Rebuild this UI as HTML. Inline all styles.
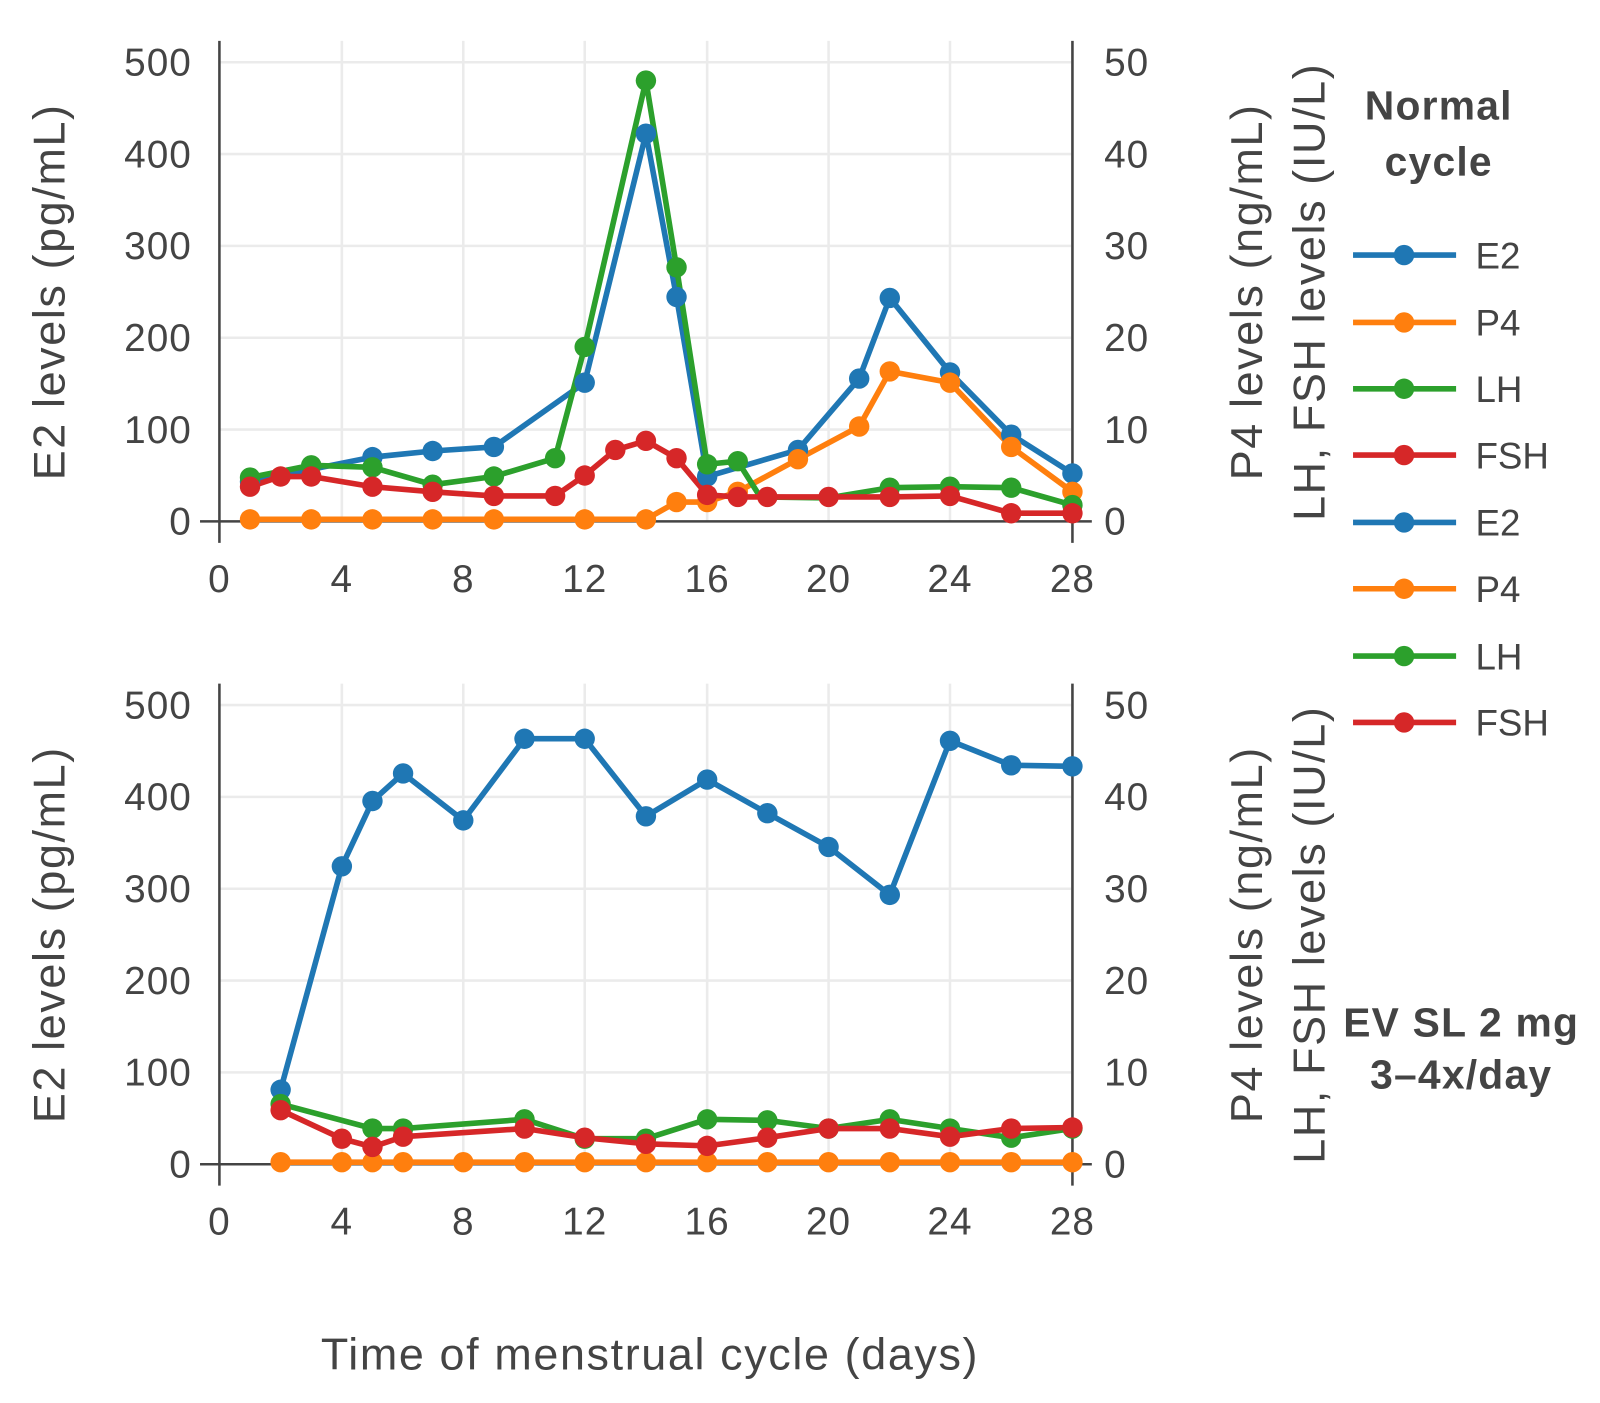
<!DOCTYPE html>
<html><head><meta charset="utf-8"><style>
html,body{margin:0;padding:0;background:#fff;}
svg{display:block;}
text{font-family:"Liberation Sans",sans-serif;fill:#444;}
circle{r:10px;}
</style></head><body>
<svg width="1600" height="1403" viewBox="0 0 1568 1375" xmlns="http://www.w3.org/2000/svg">
<g stroke="#ebebeb" stroke-width="2.5">
<line x1="335" y1="40" x2="335" y2="511"/><line x1="454" y1="40" x2="454" y2="511"/><line x1="573" y1="40" x2="573" y2="511"/><line x1="693" y1="40" x2="693" y2="511"/><line x1="812" y1="40" x2="812" y2="511"/><line x1="931" y1="40" x2="931" y2="511"/><line x1="1051" y1="40" x2="1051" y2="511"/>
<line x1="215" y1="421" x2="1051" y2="421"/><line x1="215" y1="331" x2="1051" y2="331"/><line x1="215" y1="241" x2="1051" y2="241"/><line x1="215" y1="151" x2="1051" y2="151"/><line x1="215" y1="61" x2="1051" y2="61"/>
<line x1="335" y1="670" x2="335" y2="1141"/><line x1="454" y1="670" x2="454" y2="1141"/><line x1="573" y1="670" x2="573" y2="1141"/><line x1="693" y1="670" x2="693" y2="1141"/><line x1="812" y1="670" x2="812" y2="1141"/><line x1="931" y1="670" x2="931" y2="1141"/><line x1="1051" y1="670" x2="1051" y2="1141"/>
<line x1="215" y1="1051" x2="1051" y2="1051"/><line x1="215" y1="961" x2="1051" y2="961"/><line x1="215" y1="871" x2="1051" y2="871"/><line x1="215" y1="781" x2="1051" y2="781"/><line x1="215" y1="691" x2="1051" y2="691"/>
</g>
<g stroke="#444" stroke-width="2.5">
<line x1="215" y1="40" x2="215" y2="532"/><line x1="1051" y1="40" x2="1051" y2="532"/><line x1="196" y1="511" x2="1070" y2="511"/>
<line x1="215" y1="670" x2="215" y2="1162"/><line x1="1051" y1="670" x2="1051" y2="1162"/><line x1="196" y1="1141" x2="1070" y2="1141"/>
</g>
<g font-size="38" letter-spacing="1" text-anchor="end">
<text x="188" y="524">0</text><text x="188" y="434">100</text><text x="188" y="344">200</text><text x="188" y="254">300</text><text x="188" y="164">400</text><text x="188" y="74">500</text>
<text x="188" y="1154">0</text><text x="188" y="1064">100</text><text x="188" y="974">200</text><text x="188" y="884">300</text><text x="188" y="794">400</text><text x="188" y="704">500</text>
</g>
<g font-size="38" letter-spacing="1" text-anchor="start">
<text x="1082" y="524">0</text><text x="1082" y="434">10</text><text x="1082" y="344">20</text><text x="1082" y="254">30</text><text x="1082" y="164">40</text><text x="1082" y="74">50</text>
<text x="1082" y="1154">0</text><text x="1082" y="1064">10</text><text x="1082" y="974">20</text><text x="1082" y="884">30</text><text x="1082" y="794">40</text><text x="1082" y="704">50</text>
</g>
<g font-size="38" letter-spacing="1" text-anchor="middle">
<text x="215" y="580">0</text><text x="335" y="580">4</text><text x="454" y="580">8</text><text x="573" y="580">12</text><text x="693" y="580">16</text><text x="812" y="580">20</text><text x="931" y="580">24</text><text x="1051" y="580">28</text>
<text x="215" y="1210">0</text><text x="335" y="1210">4</text><text x="454" y="1210">8</text><text x="573" y="1210">12</text><text x="693" y="1210">16</text><text x="812" y="1210">20</text><text x="931" y="1210">24</text><text x="1051" y="1210">28</text>
</g>
<g font-size="44" letter-spacing="1.6" text-anchor="middle">
<text transform="translate(63,286) rotate(-90)">E2 levels (pg/mL)</text>
<text transform="translate(63,916) rotate(-90)">E2 levels (pg/mL)</text>
<text transform="translate(1237,286) rotate(-90)">P4 levels (ng/mL)</text>
<text transform="translate(1298,286) rotate(-90)">LH, FSH levels (IU/L)</text>
<text transform="translate(1237,916) rotate(-90)">P4 levels (ng/mL)</text>
<text transform="translate(1298,916) rotate(-90)">LH, FSH levels (IU/L)</text>
<text x="637" y="1342">Time of menstrual cycle (days)</text>
</g>
<g font-size="40" letter-spacing="1.2" font-weight="bold" text-anchor="middle">
<text x="1410" y="117">Normal</text><text x="1410" y="172">cycle</text>
<text x="1432" y="1016">EV SL 2 mg</text><text x="1432" y="1067">3–4x/day</text>
</g>
<g fill="none" stroke-width="5.5" stroke-linejoin="round">
<polyline stroke="#1f77b4" points="245,472 365,448 424,442 484,438 573,375 633,131 663,291 693,467 782,441 842,371 872,292 931,365 991,426 1051,464"/>
<polyline stroke="#ff7f0e" points="245,509 305,509 365,509 424,509 484,509 573,509 633,509 663,492 693,492 723,482 782,450 842,418 872,364 931,375 991,438 1051,482"/>
<polyline stroke="#2ca02c" points="245,468 305,456 365,458 424,475 484,467 544,449 573,340 633,79 663,262 693,455 723,452 745,487 812,488 872,478 931,477 991,478 1051,495"/>
<polyline stroke="#d62728" points="245,477 275,467 305,467 365,477 424,482 484,486 544,486 573,466 603,441 633,432 663,449 693,485 723,487 752,487 812,487 872,487 931,486 991,503 1051,503"/>
</g>
<g fill="#1f77b4"><circle cx="245" cy="472" r="10"/><circle cx="365" cy="448" r="10"/><circle cx="424" cy="442" r="10"/><circle cx="484" cy="438" r="10"/><circle cx="573" cy="375" r="10"/><circle cx="633" cy="131" r="10"/><circle cx="663" cy="291" r="10"/><circle cx="693" cy="467" r="10"/><circle cx="782" cy="441" r="10"/><circle cx="842" cy="371" r="10"/><circle cx="872" cy="292" r="10"/><circle cx="931" cy="365" r="10"/><circle cx="991" cy="426" r="10"/><circle cx="1051" cy="464" r="10"/></g>
<g fill="#ff7f0e"><circle cx="245" cy="509" r="10"/><circle cx="305" cy="509" r="10"/><circle cx="365" cy="509" r="10"/><circle cx="424" cy="509" r="10"/><circle cx="484" cy="509" r="10"/><circle cx="573" cy="509" r="10"/><circle cx="633" cy="509" r="10"/><circle cx="663" cy="492" r="10"/><circle cx="693" cy="492" r="10"/><circle cx="723" cy="482" r="10"/><circle cx="782" cy="450" r="10"/><circle cx="842" cy="418" r="10"/><circle cx="872" cy="364" r="10"/><circle cx="931" cy="375" r="10"/><circle cx="991" cy="438" r="10"/><circle cx="1051" cy="482" r="10"/></g>
<g fill="#2ca02c"><circle cx="245" cy="468" r="10"/><circle cx="305" cy="456" r="10"/><circle cx="365" cy="458" r="10"/><circle cx="424" cy="475" r="10"/><circle cx="484" cy="467" r="10"/><circle cx="544" cy="449" r="10"/><circle cx="573" cy="340" r="10"/><circle cx="633" cy="79" r="10"/><circle cx="663" cy="262" r="10"/><circle cx="693" cy="455" r="10"/><circle cx="723" cy="452" r="10"/><circle cx="872" cy="478" r="10"/><circle cx="931" cy="477" r="10"/><circle cx="991" cy="478" r="10"/><circle cx="1051" cy="495" r="10"/></g>
<g fill="#d62728"><circle cx="245" cy="477" r="10"/><circle cx="275" cy="467" r="10"/><circle cx="305" cy="467" r="10"/><circle cx="365" cy="477" r="10"/><circle cx="424" cy="482" r="10"/><circle cx="484" cy="486" r="10"/><circle cx="544" cy="486" r="10"/><circle cx="573" cy="466" r="10"/><circle cx="603" cy="441" r="10"/><circle cx="633" cy="432" r="10"/><circle cx="663" cy="449" r="10"/><circle cx="693" cy="485" r="10"/><circle cx="723" cy="487" r="10"/><circle cx="752" cy="487" r="10"/><circle cx="812" cy="487" r="10"/><circle cx="872" cy="487" r="10"/><circle cx="931" cy="486" r="10"/><circle cx="991" cy="503" r="10"/><circle cx="1051" cy="503" r="10"/></g>
<g fill="none" stroke-width="5.5" stroke-linejoin="round">
<polyline stroke="#1f77b4" points="275,1068 335,849 365,785 395,758 454,804 514,724 573,724 633,800 693,764 752,797 812,830 872,877 931,726 991,750 1051,751"/>
<polyline stroke="#ff7f0e" points="275,1139 1051,1139"/>
<polyline stroke="#2ca02c" points="275,1082 365,1106 395,1106 514,1097 573,1116 633,1116 693,1097 752,1098 812,1106 872,1097 931,1106 991,1115 1051,1106"/>
<polyline stroke="#d62728" points="275,1088 335,1116 365,1124 395,1114 514,1106 573,1115 633,1121 693,1123 752,1115 812,1106 872,1106 931,1114 991,1106 1051,1105"/>
</g>
<g fill="#1f77b4"><circle cx="275" cy="1068" r="10"/><circle cx="335" cy="849" r="10"/><circle cx="365" cy="785" r="10"/><circle cx="395" cy="758" r="10"/><circle cx="454" cy="804" r="10"/><circle cx="514" cy="724" r="10"/><circle cx="573" cy="724" r="10"/><circle cx="633" cy="800" r="10"/><circle cx="693" cy="764" r="10"/><circle cx="752" cy="797" r="10"/><circle cx="812" cy="830" r="10"/><circle cx="872" cy="877" r="10"/><circle cx="931" cy="726" r="10"/><circle cx="991" cy="750" r="10"/><circle cx="1051" cy="751" r="10"/></g>
<g fill="#ff7f0e"><circle cx="275" cy="1139" r="10"/><circle cx="335" cy="1139" r="10"/><circle cx="365" cy="1139" r="10"/><circle cx="395" cy="1139" r="10"/><circle cx="454" cy="1139" r="10"/><circle cx="514" cy="1139" r="10"/><circle cx="573" cy="1139" r="10"/><circle cx="633" cy="1139" r="10"/><circle cx="693" cy="1139" r="10"/><circle cx="752" cy="1139" r="10"/><circle cx="812" cy="1139" r="10"/><circle cx="872" cy="1139" r="10"/><circle cx="931" cy="1139" r="10"/><circle cx="991" cy="1139" r="10"/><circle cx="1051" cy="1139" r="10"/></g>
<g fill="#2ca02c"><circle cx="275" cy="1082" r="10"/><circle cx="365" cy="1106" r="10"/><circle cx="395" cy="1106" r="10"/><circle cx="514" cy="1097" r="10"/><circle cx="573" cy="1116" r="10"/><circle cx="633" cy="1116" r="10"/><circle cx="693" cy="1097" r="10"/><circle cx="752" cy="1098" r="10"/><circle cx="812" cy="1106" r="10"/><circle cx="872" cy="1097" r="10"/><circle cx="931" cy="1106" r="10"/><circle cx="991" cy="1115" r="10"/><circle cx="1051" cy="1106" r="10"/></g>
<g fill="#d62728"><circle cx="275" cy="1088" r="10"/><circle cx="335" cy="1116" r="10"/><circle cx="365" cy="1124" r="10"/><circle cx="395" cy="1114" r="10"/><circle cx="514" cy="1106" r="10"/><circle cx="573" cy="1115" r="10"/><circle cx="633" cy="1121" r="10"/><circle cx="693" cy="1123" r="10"/><circle cx="752" cy="1115" r="10"/><circle cx="812" cy="1106" r="10"/><circle cx="872" cy="1106" r="10"/><circle cx="931" cy="1114" r="10"/><circle cx="991" cy="1106" r="10"/><circle cx="1051" cy="1105" r="10"/></g>
<g stroke-width="5.5">
<line x1="1326" y1="250" x2="1427" y2="250" stroke="#1f77b4"/><circle cx="1376" cy="250" r="10" fill="#1f77b4"/>
<line x1="1326" y1="316" x2="1427" y2="316" stroke="#ff7f0e"/><circle cx="1376" cy="316" r="10" fill="#ff7f0e"/>
<line x1="1326" y1="381" x2="1427" y2="381" stroke="#2ca02c"/><circle cx="1376" cy="381" r="10" fill="#2ca02c"/>
<line x1="1326" y1="446" x2="1427" y2="446" stroke="#d62728"/><circle cx="1376" cy="446" r="10" fill="#d62728"/>
<line x1="1326" y1="512" x2="1427" y2="512" stroke="#1f77b4"/><circle cx="1376" cy="512" r="10" fill="#1f77b4"/>
<line x1="1326" y1="577" x2="1427" y2="577" stroke="#ff7f0e"/><circle cx="1376" cy="577" r="10" fill="#ff7f0e"/>
<line x1="1326" y1="643" x2="1427" y2="643" stroke="#2ca02c"/><circle cx="1376" cy="643" r="10" fill="#2ca02c"/>
<line x1="1326" y1="708" x2="1427" y2="708" stroke="#d62728"/><circle cx="1376" cy="708" r="10" fill="#d62728"/>
</g>
<g font-size="36">
<text x="1446" y="263">E2</text><text x="1446" y="329">P4</text><text x="1446" y="394">LH</text><text x="1446" y="459">FSH</text>
<text x="1446" y="525">E2</text><text x="1446" y="590">P4</text><text x="1446" y="656">LH</text><text x="1446" y="721">FSH</text>
</g>
</svg>
</body></html>
